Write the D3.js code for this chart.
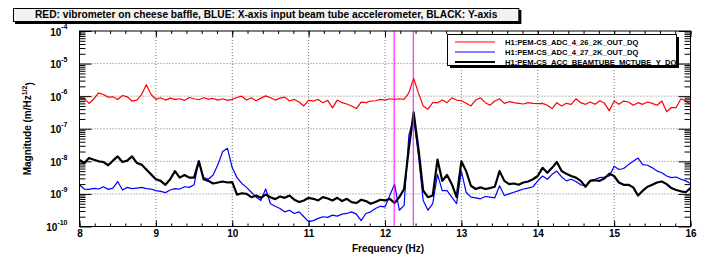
<!DOCTYPE html>
<html>
<head>
<meta charset="utf-8">
<script src="https://cdn.jsdelivr.net/npm/d3@7"></script>
<style>
  body { margin: 0; background: #fff; }
  svg { font-family: "Liberation Sans", Arial, sans-serif; font-weight: bold; }
</style>
</head>
<body>
<div id="chart"></div>
<script>
// frequency grid, 1/16 Hz from 8 to 16 Hz
var freqStart = 8, freqStep = 0.0625;

// log10 of magnitude (m/Hz^1/2), one value per bin
var redLog = [
  -6.05, -6.07, -6.22, -6.08, -5.90, -5.95, -6.03, -6.02, -6.10, -5.98,
  -6.02, -6.15, -6.12, -5.95, -5.65, -5.95, -6.10, -6.05, -6.12, -6.06,
  -6.10, -6.08, -6.13, -6.04, -6.08, -6.11, -6.05, -6.09, -6.07, -6.12,
  -6.08, -6.13, -6.10, -6.04, -6.00, -6.12, -6.05, -6.14, -6.06, -5.99,
  -6.05, -6.12, -6.06, -6.03, -6.15, -6.10, -6.18, -6.30, -6.12, -6.15,
  -6.10, -6.20, -6.13, -6.36, -6.12, -6.20, -6.24, -6.30, -6.38, -6.18,
  -6.20, -6.15, -6.14, -6.10, -6.12, -6.08, -6.10, -6.08, -6.10, -5.90,
  -5.45, -5.90, -6.30, -6.40, -6.20, -6.20, -6.12, -6.20, -6.05, -6.12,
  -6.14, -6.22, -6.30, -6.12, -6.05, -6.20, -6.28, -6.15, -6.08, -6.22,
  -6.17, -6.20, -6.22, -6.24, -6.20, -6.22, -6.23, -6.22, -6.28, -6.38,
  -6.20, -6.30, -6.22, -6.25, -6.08, -6.20, -6.25, -6.18, -6.25, -6.14,
  -6.22, -6.45, -6.15, -6.25, -6.15, -6.18, -6.28, -6.20, -6.25, -6.18,
  -6.22, -6.28, -6.15, -6.48, -6.35, -6.35, -6.08, -6.15, -6.25
];

var blueLog = [
  -8.72, -8.85, -8.86, -8.83, -8.85, -8.78, -8.86, -8.82, -8.62, -8.88,
  -8.80, -8.84, -8.82, -8.80, -8.84, -8.85, -8.90, -8.92, -8.96, -8.88,
  -8.84, -8.85, -8.78, -8.80, -8.72, -7.98, -8.50, -8.55, -8.42, -8.10,
  -7.70, -7.60, -8.20, -8.50, -8.68, -8.80, -8.95, -9.10, -9.20, -8.85,
  -9.30, -9.38, -9.45, -9.55, -9.50, -9.60, -9.55, -9.70, -9.85, -9.82,
  -9.75, -9.70, -9.72, -9.65, -9.68, -9.62, -9.60, -9.55, -9.62, -9.82,
  -9.60, -9.55, -9.45, -9.38, -9.40, -9.05, -8.70, -9.50, -9.35, -7.20,
  -6.68, -7.80, -9.20, -9.50, -9.30, -8.40, -8.90, -8.90, -9.10, -9.30,
  -8.30, -8.95, -9.10, -9.12, -9.15, -9.08, -9.10, -9.12, -8.75, -9.05,
  -9.00, -8.95, -8.90, -8.85, -8.82, -8.78, -8.60, -8.45, -8.55, -8.40,
  -8.30, -8.48, -8.60, -8.55, -8.62, -8.72, -8.75, -8.58, -8.55, -8.50,
  -8.48, -8.45, -8.15, -8.25, -8.22, -8.10, -8.00, -7.90, -8.10, -8.12,
  -8.20, -8.30, -8.35, -8.45, -8.50, -8.48, -8.55, -8.60, -8.68
];

var blackLog = [
  -7.96, -8.05, -7.90, -7.95, -8.00, -8.02, -8.12, -7.98, -7.85, -8.02,
  -7.98, -7.85, -8.05, -8.10, -8.25, -8.40, -8.55, -8.60, -8.72, -8.55,
  -8.30, -8.50, -8.42, -8.50, -8.50, -8.00, -8.55, -8.60, -8.68, -8.65,
  -8.62, -8.65, -8.64, -9.02, -8.98, -9.00, -9.10, -9.05, -9.12, -9.02,
  -9.10, -9.16, -9.08, -9.12, -9.05, -9.18, -9.25, -9.20, -9.12, -9.15,
  -9.20, -9.10, -9.14, -9.20, -9.12, -9.22, -9.15, -9.25, -9.28, -9.18,
  -9.22, -9.30, -9.25, -9.18, -9.20, -9.15, -9.28, -9.10, -8.85, -7.60,
  -6.50, -7.60, -8.90, -9.10, -9.05, -7.95, -8.60, -8.42, -8.70, -9.10,
  -8.00, -8.30, -8.75, -8.85, -8.80, -8.85, -8.82, -8.78, -8.30, -8.60,
  -8.70, -8.68, -8.72, -8.65, -8.62, -8.55, -8.45, -8.20, -8.35, -8.20,
  -8.02, -8.30, -8.38, -8.45, -8.50, -8.60, -8.78, -8.60, -8.58, -8.60,
  -8.52, -8.38, -8.45, -8.65, -8.72, -8.72, -8.80, -9.05, -8.90, -8.78,
  -8.72, -8.65, -8.62, -8.70, -8.82, -8.88, -8.92, -8.95, -8.82
];

var markerFreqs = [12.12, 12.37];
var xTicks = [8, 9, 10, 11, 12, 13, 14, 15, 16];
var yExponents = [-10, -9, -8, -7, -6, -5, -4];

var seriesNames = ["H1:PEM-CS_ADC_4_26_2K_OUT_DQ", "H1:PEM-CS_ADC_4_27_2K_OUT_DQ", "H1:PEM-CS_ACC_BEAMTUBE_MCTUBE_Y_DQ"];
var seriesColors = ["#ff0000", "#0000ff", "#000000"];
var seriesWidths = [1.2, 1.2, 2.2];
var titleText = "RED: vibrometer on cheese baffle, BLUE: X-axis input beam tube accelerometer, BLACK: Y-axis";

var width = 709, height = 260;
var plotL = 79.5, plotR = 690.5, plotT = 31, plotB = 226.5;

var svg = d3.select("#chart").append("svg")
    .attr("width", width)
    .attr("height", height);

var x = d3.scaleLinear().domain([8, 16]).range([plotL, plotR]);
var y = d3.scaleLog().domain([1e-10, 1e-4]).range([plotB, plotT]);

function toPoints(logs) {
    return logs.map(function (v, i) {
        return { f: freqStart + i * freqStep, m: Math.pow(10, v) };
    });
}
var allSeries = [toPoints(redLog), toPoints(blueLog), toPoints(blackLog)];

// tick values
var xMinor = d3.range(8, 16.0001, 0.2);
var yDecades = yExponents.map(function (e) { return Math.pow(10, e); });
var yMinor = [];
yExponents.slice(0, -1).forEach(function (e) {
    for (var k = 2; k <= 9; k++) yMinor.push(k * Math.pow(10, e));
});

// grid
svg.append("g").selectAll("line")
    .data(xTicks.slice(1, -1))
    .enter().append("line")
    .attr("x1", function (d) { return x(d); })
    .attr("x2", function (d) { return x(d); })
    .attr("y1", plotT).attr("y2", plotB)
    .attr("stroke", "#777").attr("stroke-dasharray", "1,2");

svg.append("g").selectAll("line")
    .data(yDecades.slice(1, -1))
    .enter().append("line")
    .attr("x1", plotL).attr("x2", plotR)
    .attr("y1", function (d) { return y(d); })
    .attr("y2", function (d) { return y(d); })
    .attr("stroke", "#777").attr("stroke-dasharray", "1,2");

// series
var line = d3.line()
    .x(function (d) { return x(d.f); })
    .y(function (d) { return y(d.m); });

svg.append("g").selectAll("path")
    .data(allSeries)
    .enter().append("path")
    .attr("d", line)
    .attr("fill", "none")
    .attr("stroke", function (d, i) { return seriesColors[i]; })
    .attr("stroke-width", function (d, i) { return seriesWidths[i]; })
    .attr("stroke-linejoin", "round");

// marker lines
svg.append("g").selectAll("line")
    .data(markerFreqs)
    .enter().append("line")
    .attr("x1", function (d) { return x(d); })
    .attr("x2", function (d) { return x(d); })
    .attr("y1", plotT).attr("y2", plotB)
    .attr("stroke", "#ff00ff").attr("stroke-width", 1);

// axes
function noText(g) { g.select(".domain").remove(); g.selectAll("text").remove(); }

svg.append("g").attr("transform", "translate(0," + plotB + ")")
    .call(d3.axisBottom(x).tickValues(xMinor).tickSize(-3).tickFormat(""))
    .call(noText);
svg.append("g").attr("transform", "translate(0," + plotT + ")")
    .call(d3.axisTop(x).tickValues(xMinor).tickSize(-3).tickFormat(""))
    .call(noText);
svg.append("g").attr("transform", "translate(0," + plotT + ")")
    .call(d3.axisTop(x).tickValues(xTicks).tickSize(-6).tickFormat(""))
    .call(noText);

var xAxis = svg.append("g").attr("transform", "translate(0," + plotB + ")")
    .call(d3.axisBottom(x).tickValues(xTicks).tickSize(-6).tickPadding(3).tickFormat(d3.format("d")));
xAxis.select(".domain").remove();
xAxis.selectAll("text").attr("font-size", 10).attr("font-weight", "bold").attr("fill", "#000");

svg.append("g").attr("transform", "translate(" + plotL + ",0)")
    .call(d3.axisLeft(y).tickValues(yMinor).tickSize(-6).tickFormat(""))
    .call(noText);
svg.append("g").attr("transform", "translate(" + plotR + ",0)")
    .call(d3.axisRight(y).tickValues(yMinor).tickSize(-6).tickFormat(""))
    .call(noText);
svg.append("g").attr("transform", "translate(" + plotR + ",0)")
    .call(d3.axisRight(y).tickValues(yDecades).tickSize(-12).tickFormat(""))
    .call(noText);

var yAxis = svg.append("g").attr("transform", "translate(" + plotL + ",0)")
    .call(d3.axisLeft(y).tickValues(yDecades).tickSize(-12).tickPadding(12).tickFormat(""));
yAxis.select(".domain").remove();
yAxis.selectAll(".tick text").each(function (d) {
    var t = d3.select(this).attr("font-size", 10).attr("fill", "#000").attr("dy", "0.4em");
    t.append("tspan").text("10");
    t.append("tspan").attr("font-size", 7).attr("dy", "-0.9em").text(Math.round(Math.log10(d)));
});
svg.selectAll(".tick line").attr("stroke", "#000");

// frame
svg.append("rect")
    .attr("x", plotL).attr("y", plotT)
    .attr("width", plotR - plotL).attr("height", plotB - plotT)
    .attr("fill", "none").attr("stroke", "#000").attr("stroke-width", 1);

// axis titles
svg.append("text")
    .attr("x", (plotL + plotR) / 2 + 3).attr("y", 252)
    .attr("text-anchor", "middle").attr("font-size", 10)
    .text("Frequency (Hz)");

var yTitle = svg.append("text")
    .attr("transform", "translate(31," + ((plotT + plotB) / 2) + ") rotate(-90)")
    .attr("text-anchor", "middle").attr("font-size", 10);
yTitle.append("tspan").text("Magnitude (m/Hz");
yTitle.append("tspan").attr("font-size", 7).attr("dy", "-0.6em").text("1/2");
yTitle.append("tspan").attr("dy", "0.6em").text(")");

// title box, sized to its text
var title = svg.append("g");
var titleShadow = title.append("rect").attr("fill", "#000");
var titleRect = title.append("rect").attr("fill", "#f2f2f2").attr("stroke", "#000").attr("stroke-width", 1);
var tText = title.append("text").attr("x", 35).attr("y", 17.8)
    .attr("font-size", 10.2)
    .text(titleText);
var tw = tText.node().getComputedTextLength();
titleShadow.attr("x", 15).attr("y", 10).attr("width", tw + 44).attr("height", 14);
titleRect.attr("x", 13.5).attr("y", 8.5).attr("width", tw + 43).attr("height", 13);

// legend
var legend = svg.append("g");
legend.append("rect").attr("x", 450).attr("y", 37).attr("width", 229).attr("height", 31).attr("fill", "#000");
legend.append("rect").attr("x", 447.5).attr("y", 34.5).attr("width", 229).attr("height", 31)
    .attr("fill", "#fff").attr("stroke", "#000").attr("stroke-width", 1);

var entries = legend.selectAll(".entry")
    .data(seriesNames)
    .enter().append("g")
    .attr("class", "entry")
    .attr("transform", function (d, i) { return "translate(0," + (42 + i * 10) + ")"; });
entries.append("line")
    .attr("x1", 455).attr("x2", 495)
    .attr("stroke", function (d, i) { return seriesColors[i]; })
    .attr("stroke-width", function (d, i) { return seriesWidths[i]; });
entries.append("text")
    .attr("x", 505).attr("dy", "0.35em")
    .attr("font-size", 7.6)
    .text(function (d) { return d; });
</script>
</body>
</html>
